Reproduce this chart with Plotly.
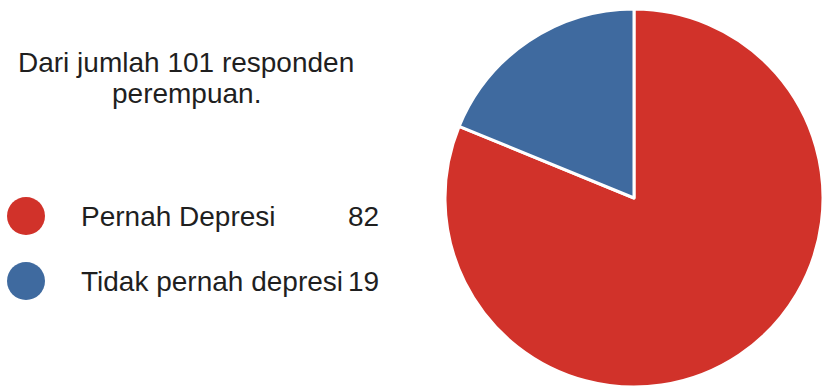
import plotly.graph_objects as go

labels = ["Pernah Depresi", "Tidak pernah depresi"]
values = [82, 19]
colors = ["#D1322A", "#3F6A9F"]
title_lines = ["Dari jumlah 101 responden", "perempuan."]

W, H = 834, 391
FONT = "Liberation Sans, Arial, sans-serif"
TXT = "#1f1f1f"

fig = go.Figure()

# Pie
cx, cy, r = 634, 198, 189
fig.add_trace(go.Pie(
    labels=labels, values=values, sort=False, direction="clockwise", rotation=0,
    marker=dict(colors=colors, line=dict(color="white", width=3)),
    textinfo="none", hoverinfo="label+value", showlegend=False,
    domain=dict(x=[(cx - r) / W, (cx + r) / W], y=[(H - cy - r) / H, (H - cy + r) / H]),
))

# Legend markers
leg_y = [216, 281]
fig.add_trace(go.Scatter(
    x=[26] * len(labels), y=leg_y, mode="markers",
    marker=dict(size=38, color=colors, line=dict(width=0)),
    showlegend=False, hoverinfo="skip", xaxis="x", yaxis="y",
))

annotations = []
for i, t in enumerate(title_lines):
    annotations.append(dict(x=186, y=62 + 31 * i, text=t, showarrow=False, xref="x", yref="y",
                            xanchor="center", yanchor="middle",
                            font=dict(family=FONT, size=28, color=TXT)))
for lab, val, yy in zip(labels, values, leg_y):
    annotations.append(dict(x=79, y=yy, text=lab, showarrow=False, xref="x", yref="y",
                            xanchor="left", yanchor="middle",
                            font=dict(family=FONT, size=28, color=TXT)))
    annotations.append(dict(x=381, y=yy, text=str(val), showarrow=False, xref="x", yref="y",
                            xanchor="right", yanchor="middle",
                            font=dict(family=FONT, size=28, color=TXT)))

fig.update_layout(
    width=W, height=H, margin=dict(l=0, r=0, t=0, b=0),
    paper_bgcolor="white", plot_bgcolor="rgba(0,0,0,0)",
    xaxis=dict(range=[0, W], visible=False, fixedrange=True),
    yaxis=dict(range=[H, 0], visible=False, fixedrange=True),
    annotations=annotations, showlegend=False,
)

fig.write_html("out.html", config={"displayModeBar": False},
               post_script="document.body.style.margin='0';document.body.style.overflow='hidden';")
